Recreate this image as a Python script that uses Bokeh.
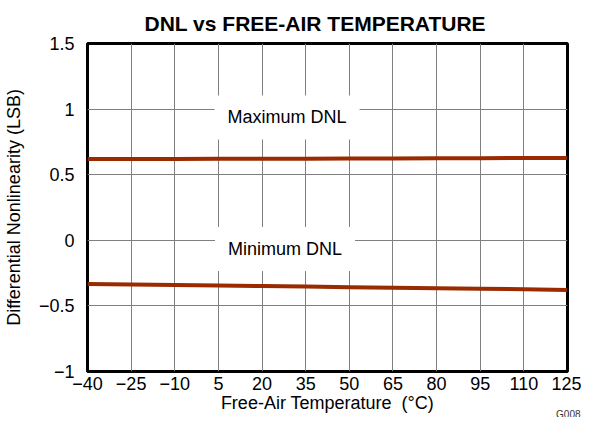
from bokeh.plotting import figure
from bokeh.models import FixedTicker, Label, Range1d, Title
from bokeh.embed import file_html
from bokeh.resources import INLINE

temps = [-40, -25, -10, 5, 20, 35, 50, 65, 80, 95, 110, 125]
max_dnl = [0.620, 0.620, 0.620, 0.621, 0.621, 0.622, 0.623, 0.624, 0.625, 0.626, 0.627, 0.628]
min_dnl = [-0.333, -0.337, -0.341, -0.345, -0.349, -0.353, -0.357, -0.361, -0.365, -0.369, -0.373, -0.378]

x_ticks = [-40, -25, -10, 5, 20, 35, 50, 65, 80, 95, 110, 125]
x_tick_labels = ["\u221240", "\u221225", "\u221210", "5", "20", "35", "50", "65", "80", "95", "110", "125"]
y_ticks = [-1, -0.5, 0, 0.5, 1, 1.5]
y_tick_labels = ["\u22121", "\u22120.5", "0", "0.5", "1", "1.5"]

title_text = "DNL vs FREE-AIR TEMPERATURE"
x_label = "Free-Air Temperature\u00a0 (\u00b0C)"
y_label = "Differential Nonlinearity (LSB)"
annotations = [("Maximum DNL", 28.6, 0.936), ("Minimum DNL", 27.9, -0.066)]
figure_id = "G008"

FONT = "Liberation Sans"

p = figure(width=581, height=417, output_backend="svg", toolbar_location=None,
           x_range=Range1d(-40, 125), y_range=Range1d(-1, 1.5),
           min_border_left=82, min_border_right=14, min_border_top=43, min_border_bottom=46)

p.title.text = title_text
p.title.text_font = FONT
p.title.text_font_size = "21px"
p.title.text_font_style = "bold"
p.title.text_color = "black"
p.title.align = "left"
p.title.offset = 57
try:
    p.title.standoff = 17
except Exception:
    pass

p.outline_line_color = "black"
p.outline_line_width = 3
p.background_fill_color = "white"
p.border_fill_color = "white"

for ax in (p.xaxis[0], p.yaxis[0]):
    ax.axis_line_color = None
    ax.major_tick_line_color = None
    ax.minor_tick_line_color = None
    ax.major_tick_out = 0
    ax.major_tick_in = 0
    ax.minor_tick_out = 0
    ax.minor_tick_in = 0
    ax.major_label_text_font = FONT
    ax.major_label_text_font_size = "18px"
    ax.major_label_text_color = "black"
    ax.axis_label_text_font = FONT
    ax.axis_label_text_font_size = "18px"
    ax.axis_label_text_font_style = "normal"
    ax.axis_label_text_color = "black"

p.xaxis.ticker = FixedTicker(ticks=x_ticks)
p.xaxis.major_label_overrides = dict(zip(x_ticks, x_tick_labels))
p.xaxis.axis_label = x_label
p.xaxis.major_label_standoff = 5
p.xaxis.axis_label_standoff = 0

p.yaxis.ticker = FixedTicker(ticks=y_ticks)
p.yaxis.major_label_overrides = dict(zip(y_ticks, y_tick_labels))
p.yaxis.axis_label = y_label
p.yaxis.major_label_standoff = 13
p.yaxis.axis_label_standoff = 12

p.xgrid.ticker = FixedTicker(ticks=x_ticks)
p.ygrid.ticker = FixedTicker(ticks=y_ticks)
p.grid.grid_line_color = "#808080"
p.grid.grid_line_width = 1

line_color = "#9a2a00"
p.line(temps, max_dnl, line_color=line_color, line_width=4)
p.line(temps, min_dnl, line_color=line_color, line_width=4)

for txt, x, y in annotations:
    p.add_layout(Label(x=x, y=y, text=txt, text_align="center", text_baseline="middle",
                       text_font=FONT, text_font_size="18px", text_color="black",
                       background_fill_color="white", padding=dict(x=13, y=12)))

# small figure id in the bottom-right corner
fig_id = Title(text=figure_id, text_font=FONT, text_font_size="10px",
               text_font_style="normal", text_color="#333333",
               align="right", vertical_align="top", offset=-13)
try:
    fig_id.standoff = -12.5
except Exception:
    fig_id.standoff = 0
p.add_layout(fig_id, "below")

open("out.html", "w").write(file_html(p, INLINE))
